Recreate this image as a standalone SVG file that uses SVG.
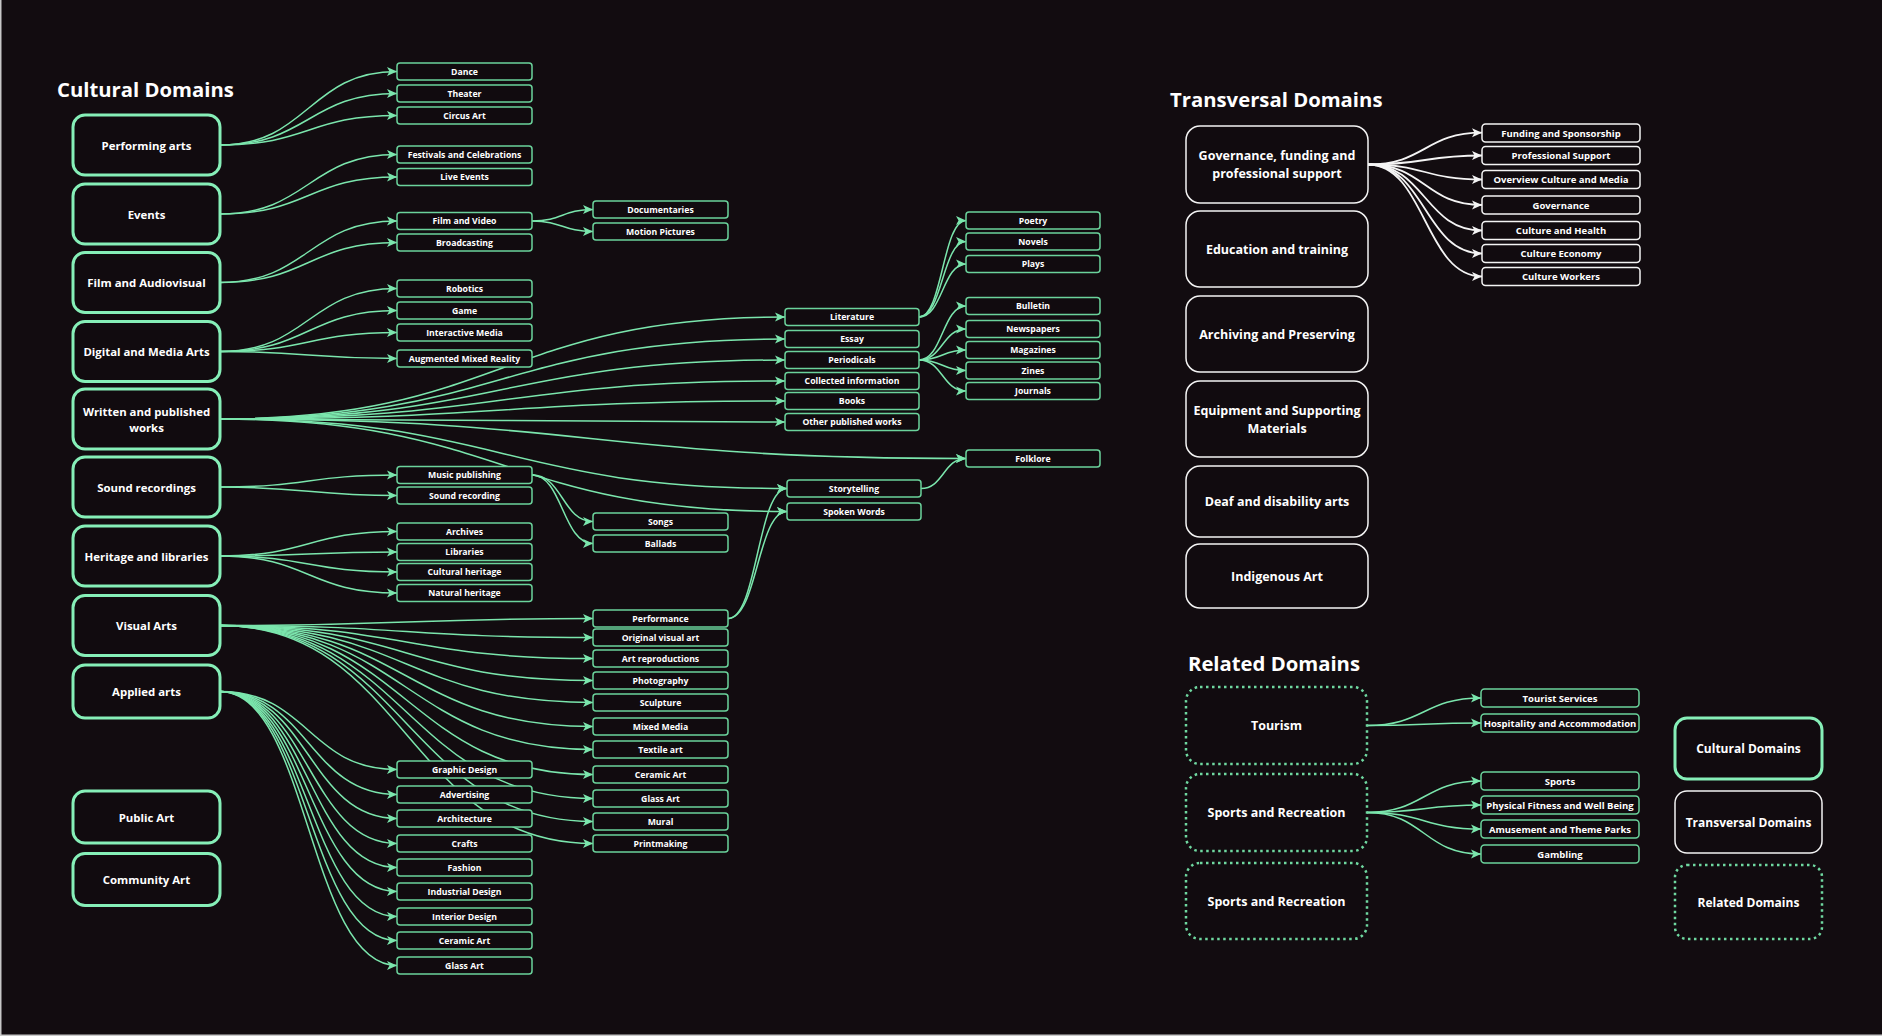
<svg xmlns="http://www.w3.org/2000/svg" width="1882" height="1036" viewBox="0 0 1882 1036">
<defs>
<style>
.t{font-family:"Open Sans","Noto Sans","Liberation Sans",sans-serif;font-weight:700;fill:#ffffff;text-anchor:middle;dominant-baseline:central}
.h{font-family:"Open Sans","Noto Sans","Liberation Sans",sans-serif;font-weight:700;fill:#ffffff;font-size:20.3px}
.m{font-size:11.4px}
.m2{font-size:12.5px}
.lg{font-size:12px}
.s{font-size:8.7px}
.s2{font-size:9.5px}
.mn{fill:#110b0f;stroke:#86efb8;stroke-width:3}
.lf{fill:#110b0f;stroke:#6bd39c;stroke-width:1.5}
.tv{fill:#110b0f;stroke:#f4f4f4;stroke-width:1.5}
.rl{fill:#110b0f;stroke:#6fd8a0;stroke-width:2.5;stroke-dasharray:2.5 3.5}
.cg path{fill:none;stroke:#7be6ad;stroke-width:1.5;marker-end:url(#ag)}
.cw path{fill:none;stroke:#f4f4f4;stroke-width:1.8;marker-end:url(#aw)}
</style>
<marker id="ag" markerUnits="userSpaceOnUse" markerWidth="10" markerHeight="10" refX="10" refY="5" orient="auto" viewBox="0 0 10 10"><path d="M0,0.5 L10,5 L0,9.5 L2.5,5 z" fill="#7be6ad"/></marker>
<marker id="aw" markerUnits="userSpaceOnUse" markerWidth="10" markerHeight="10" refX="10" refY="5" orient="auto" viewBox="0 0 10 10"><path d="M0,0.5 L10,5 L0,9.5 L2.5,5 z" fill="#f4f4f4"/></marker>
</defs>
<rect x="0" y="0" width="1882" height="1036" fill="#120c10"/>
<path d="M0.75,0 V1035.25 H1882" fill="none" stroke="#c8c8c8" stroke-width="1.5"/>

<text class="h" x="57" y="97">Cultural Domains</text>
<text class="h" x="1170" y="107">Transversal Domains</text>
<text class="h" x="1188" y="671">Related Domains</text>

<g id="connectors">
<g class="cg">
<path d="M220,145 C308.5,145 308.5,71.5 397,71.5"/>
<path d="M220,145 C308.5,145 308.5,93.5 397,93.5"/>
<path d="M220,145 C308.5,145 308.5,115.5 397,115.5"/>
<path d="M220,214 C308.5,214 308.5,154.5 397,154.5"/>
<path d="M220,214 C308.5,214 308.5,177 397,177"/>
<path d="M220,282.5 C308.5,282.5 308.5,221 397,221"/>
<path d="M220,282.5 C308.5,282.5 308.5,242.5 397,242.5"/>
<path d="M532,221 C562.5,221 562.5,209.5 593,209.5"/>
<path d="M532,221 C562.5,221 562.5,231.5 593,231.5"/>
<path d="M220,351.5 C308.5,351.5 308.5,288.5 397,288.5"/>
<path d="M220,351.5 C308.5,351.5 308.5,310.5 397,310.5"/>
<path d="M220,351.5 C308.5,351.5 308.5,332.5 397,332.5"/>
<path d="M220,351.5 C308.5,351.5 308.5,358.5 397,358.5"/>
<path d="M220,419 C502.5,419 502.5,317 785,317"/>
<path d="M220,419 C502.5,419 502.5,339 785,339"/>
<path d="M220,419 C502.5,419 502.5,360 785,360"/>
<path d="M220,419 C502.5,419 502.5,381 785,381"/>
<path d="M220,419 C502.5,419 502.5,401 785,401"/>
<path d="M220,419 C502.5,419 502.5,422 785,422"/>
<path d="M220,419 C593,419 593,458.5 966,458.5"/>
<path d="M220,419 C503.5,419 503.5,488.5 787,488.5"/>
<path d="M220,419 C503.5,419 503.5,511.5 787,511.5"/>
<path d="M919,317 C942.5,317 942.5,220.5 966,220.5"/>
<path d="M919,317 C942.5,317 942.5,241.5 966,241.5"/>
<path d="M919,317 C942.5,317 942.5,264 966,264"/>
<path d="M919,360 C942.5,360 942.5,306 966,306"/>
<path d="M919,360 C942.5,360 942.5,329 966,329"/>
<path d="M919,360 C942.5,360 942.5,350 966,350"/>
<path d="M919,360 C942.5,360 942.5,370.5 966,370.5"/>
<path d="M919,360 C942.5,360 942.5,391 966,391"/>
<path d="M921,488.5 C943.5,488.5 943.5,458.5 966,458.5"/>
<path d="M220,487 C308.5,487 308.5,475 397,475"/>
<path d="M220,487 C308.5,487 308.5,495.5 397,495.5"/>
<path d="M532,475 C562.5,475 562.5,521.5 593,521.5"/>
<path d="M532,475 C562.5,475 562.5,543.5 593,543.5"/>
<path d="M220,556 C308.5,556 308.5,531.5 397,531.5"/>
<path d="M220,556 C308.5,556 308.5,552 397,552"/>
<path d="M220,556 C308.5,556 308.5,572 397,572"/>
<path d="M220,556 C308.5,556 308.5,593 397,593"/>
<path d="M220,625.5 C406.5,625.5 406.5,618.5 593,618.5"/>
<path d="M220,625.5 C406.5,625.5 406.5,637.5 593,637.5"/>
<path d="M220,625.5 C406.5,625.5 406.5,658.5 593,658.5"/>
<path d="M220,625.5 C406.5,625.5 406.5,680.5 593,680.5"/>
<path d="M220,625.5 C406.5,625.5 406.5,702.5 593,702.5"/>
<path d="M220,625.5 C406.5,625.5 406.5,726.5 593,726.5"/>
<path d="M220,625.5 C406.5,625.5 406.5,749.5 593,749.5"/>
<path d="M220,625.5 C406.5,625.5 406.5,774.5 593,774.5"/>
<path d="M220,625.5 C406.5,625.5 406.5,798.5 593,798.5"/>
<path d="M220,625.5 C406.5,625.5 406.5,821.5 593,821.5"/>
<path d="M220,625.5 C406.5,625.5 406.5,843.5 593,843.5"/>
<path d="M728,618.5 C757.5,618.5 757.5,488.5 787,488.5"/>
<path d="M728,618.5 C757.5,618.5 757.5,511.5 787,511.5"/>
<path d="M220,691.5 C308.5,691.5 308.5,769.5 397,769.5"/>
<path d="M220,691.5 C308.5,691.5 308.5,794.5 397,794.5"/>
<path d="M220,691.5 C308.5,691.5 308.5,818.5 397,818.5"/>
<path d="M220,691.5 C308.5,691.5 308.5,843.5 397,843.5"/>
<path d="M220,691.5 C308.5,691.5 308.5,867.5 397,867.5"/>
<path d="M220,691.5 C308.5,691.5 308.5,891.5 397,891.5"/>
<path d="M220,691.5 C308.5,691.5 308.5,916.5 397,916.5"/>
<path d="M220,691.5 C308.5,691.5 308.5,940.5 397,940.5"/>
<path d="M220,691.5 C308.5,691.5 308.5,965.5 397,965.5"/>
<path d="M1367,725.5 C1424,725.5 1424,698 1481,698"/>
<path d="M1367,725.5 C1424,725.5 1424,723 1481,723"/>
<path d="M1367,812.5 C1424,812.5 1424,781 1481,781"/>
<path d="M1367,812.5 C1424,812.5 1424,805 1481,805"/>
<path d="M1367,812.5 C1424,812.5 1424,829 1481,829"/>
<path d="M1367,812.5 C1424,812.5 1424,854 1481,854"/>
</g>
<g class="cw">
<path d="M1368,164.5 C1425,164.5 1425,132.7 1482,132.7"/>
<path d="M1368,164.5 C1425,164.5 1425,155.5 1482,155.5"/>
<path d="M1368,164.5 C1425,164.5 1425,179.5 1482,179.5"/>
<path d="M1368,164.5 C1425,164.5 1425,205 1482,205"/>
<path d="M1368,164.5 C1425,164.5 1425,230.5 1482,230.5"/>
<path d="M1368,164.5 C1425,164.5 1425,253.5 1482,253.5"/>
<path d="M1368,164.5 C1425,164.5 1425,276.5 1482,276.5"/>
</g>
</g>

<!-- Cultural main nodes -->
<g id="performing-arts"><rect class="mn" x="73" y="115" width="147" height="60" rx="12"/><text class="t m" x="146.5" y="145">Performing arts</text></g>
<g id="events"><rect class="mn" x="73" y="184" width="147" height="60" rx="12"/><text class="t m" x="146.5" y="214">Events</text></g>
<g id="film-audiovisual"><rect class="mn" x="73" y="252.5" width="147" height="60" rx="12"/><text class="t m" x="146.5" y="282.5">Film and Audiovisual</text></g>
<g id="digital-media"><rect class="mn" x="73" y="321.5" width="147" height="60" rx="12"/><text class="t m" x="146.5" y="351.5">Digital and Media Arts</text></g>
<g id="written"><rect class="mn" x="73" y="389" width="147" height="60" rx="12"/><text class="t m" x="146.5" y="411">Written and published</text><text class="t m" x="146.5" y="427">works</text></g>
<g id="sound-recordings"><rect class="mn" x="73" y="457" width="147" height="60" rx="12"/><text class="t m" x="146.5" y="487">Sound recordings</text></g>
<g id="heritage"><rect class="mn" x="73" y="526" width="147" height="60" rx="12"/><text class="t m" x="146.5" y="556">Heritage and libraries</text></g>
<g id="visual-arts"><rect class="mn" x="73" y="595.5" width="147" height="60" rx="12"/><text class="t m" x="146.5" y="625.5">Visual Arts</text></g>
<g id="applied-arts"><rect class="mn" x="73" y="665" width="147" height="53" rx="12"/><text class="t m" x="146.5" y="691.5">Applied arts</text></g>
<g id="public-art"><rect class="mn" x="73" y="791" width="147" height="52" rx="12"/><text class="t m" x="146.5" y="817">Public Art</text></g>
<g id="community-art"><rect class="mn" x="73" y="853.5" width="147" height="52" rx="12"/><text class="t m" x="146.5" y="879.5">Community Art</text></g>

<!-- Leaf column 1 -->
<g id="dance"><rect class="lf" x="397" y="63" width="135" height="17" rx="3"/><text class="t s" x="464.5" y="71.5">Dance</text></g>
<g id="theater"><rect class="lf" x="397" y="85" width="135" height="17" rx="3"/><text class="t s" x="464.5" y="93.5">Theater</text></g>
<g id="circus-art"><rect class="lf" x="397" y="107" width="135" height="17" rx="3"/><text class="t s" x="464.5" y="115.5">Circus Art</text></g>
<g id="festivals"><rect class="lf" x="397" y="146" width="135" height="17" rx="3"/><text class="t s" x="464.5" y="154.5">Festivals and Celebrations</text></g>
<g id="live-events"><rect class="lf" x="397" y="168.5" width="135" height="17" rx="3"/><text class="t s" x="464.5" y="177">Live Events</text></g>
<g id="film-video"><rect class="lf" x="397" y="212.5" width="135" height="17" rx="3"/><text class="t s" x="464.5" y="221">Film and Video</text></g>
<g id="broadcasting"><rect class="lf" x="397" y="234" width="135" height="17" rx="3"/><text class="t s" x="464.5" y="242.5">Broadcasting</text></g>
<g id="robotics"><rect class="lf" x="397" y="280" width="135" height="17" rx="3"/><text class="t s" x="464.5" y="288.5">Robotics</text></g>
<g id="game"><rect class="lf" x="397" y="302" width="135" height="17" rx="3"/><text class="t s" x="464.5" y="310.5">Game</text></g>
<g id="interactive-media"><rect class="lf" x="397" y="324" width="135" height="17" rx="3"/><text class="t s" x="464.5" y="332.5">Interactive Media</text></g>
<g id="augmented"><rect class="lf" x="397" y="350" width="135" height="17" rx="3"/><text class="t s" x="464.5" y="358.5">Augmented Mixed Reality</text></g>
<g id="music-publishing"><rect class="lf" x="397" y="466.5" width="135" height="17" rx="3"/><text class="t s" x="464.5" y="475">Music publishing</text></g>
<g id="sound-recording"><rect class="lf" x="397" y="487" width="135" height="17" rx="3"/><text class="t s" x="464.5" y="495.5">Sound recording</text></g>
<g id="archives"><rect class="lf" x="397" y="523" width="135" height="17" rx="3"/><text class="t s" x="464.5" y="531.5">Archives</text></g>
<g id="libraries"><rect class="lf" x="397" y="543.5" width="135" height="17" rx="3"/><text class="t s" x="464.5" y="552">Libraries</text></g>
<g id="cultural-heritage"><rect class="lf" x="397" y="563.5" width="135" height="17" rx="3"/><text class="t s" x="464.5" y="572">Cultural heritage</text></g>
<g id="natural-heritage"><rect class="lf" x="397" y="584.5" width="135" height="17" rx="3"/><text class="t s" x="464.5" y="593">Natural heritage</text></g>
<g id="graphic-design"><rect class="lf" x="397" y="761" width="135" height="17" rx="3"/><text class="t s" x="464.5" y="769.5">Graphic Design</text></g>
<g id="advertising"><rect class="lf" x="397" y="786" width="135" height="17" rx="3"/><text class="t s" x="464.5" y="794.5">Advertising</text></g>
<g id="architecture"><rect class="lf" x="397" y="810" width="135" height="17" rx="3"/><text class="t s" x="464.5" y="818.5">Architecture</text></g>
<g id="crafts"><rect class="lf" x="397" y="835" width="135" height="17" rx="3"/><text class="t s" x="464.5" y="843.5">Crafts</text></g>
<g id="fashion"><rect class="lf" x="397" y="859" width="135" height="17" rx="3"/><text class="t s" x="464.5" y="867.5">Fashion</text></g>
<g id="industrial-design"><rect class="lf" x="397" y="883" width="135" height="17" rx="3"/><text class="t s" x="464.5" y="891.5">Industrial Design</text></g>
<g id="interior-design"><rect class="lf" x="397" y="908" width="135" height="17" rx="3"/><text class="t s" x="464.5" y="916.5">Interior Design</text></g>
<g id="ceramic-art-1"><rect class="lf" x="397" y="932" width="135" height="17" rx="3"/><text class="t s" x="464.5" y="940.5">Ceramic Art</text></g>
<g id="glass-art-1"><rect class="lf" x="397" y="957" width="135" height="17" rx="3"/><text class="t s" x="464.5" y="965.5">Glass Art</text></g>

<!-- Leaf column 2 -->
<g id="documentaries"><rect class="lf" x="593" y="201" width="135" height="17" rx="3"/><text class="t s" x="660.5" y="209.5">Documentaries</text></g>
<g id="motion-pictures"><rect class="lf" x="593" y="223" width="135" height="17" rx="3"/><text class="t s" x="660.5" y="231.5">Motion Pictures</text></g>
<g id="songs"><rect class="lf" x="593" y="513" width="135" height="17" rx="3"/><text class="t s" x="660.5" y="521.5">Songs</text></g>
<g id="ballads"><rect class="lf" x="593" y="535" width="135" height="17" rx="3"/><text class="t s" x="660.5" y="543.5">Ballads</text></g>
<g id="performance"><rect class="lf" x="593" y="610" width="135" height="17" rx="3"/><text class="t s" x="660.5" y="618.5">Performance</text></g>
<g id="original-visual-art"><rect class="lf" x="593" y="629" width="135" height="17" rx="3"/><text class="t s" x="660.5" y="637.5">Original visual art</text></g>
<g id="art-reproductions"><rect class="lf" x="593" y="650" width="135" height="17" rx="3"/><text class="t s" x="660.5" y="658.5">Art reproductions</text></g>
<g id="photography"><rect class="lf" x="593" y="672" width="135" height="17" rx="3"/><text class="t s" x="660.5" y="680.5">Photography</text></g>
<g id="sculpture"><rect class="lf" x="593" y="694" width="135" height="17" rx="3"/><text class="t s" x="660.5" y="702.5">Sculpture</text></g>
<g id="mixed-media"><rect class="lf" x="593" y="718" width="135" height="17" rx="3"/><text class="t s" x="660.5" y="726.5">Mixed Media</text></g>
<g id="textile-art"><rect class="lf" x="593" y="741" width="135" height="17" rx="3"/><text class="t s" x="660.5" y="749.5">Textile art</text></g>
<g id="ceramic-art-2"><rect class="lf" x="593" y="766" width="135" height="17" rx="3"/><text class="t s" x="660.5" y="774.5">Ceramic Art</text></g>
<g id="glass-art-2"><rect class="lf" x="593" y="790" width="135" height="17" rx="3"/><text class="t s" x="660.5" y="798.5">Glass Art</text></g>
<g id="mural"><rect class="lf" x="593" y="813" width="135" height="17" rx="3"/><text class="t s" x="660.5" y="821.5">Mural</text></g>
<g id="printmaking"><rect class="lf" x="593" y="835" width="135" height="17" rx="3"/><text class="t s" x="660.5" y="843.5">Printmaking</text></g>

<!-- Leaf column 3 -->
<g id="literature"><rect class="lf" x="785" y="308.5" width="134" height="17" rx="3"/><text class="t s" x="852" y="317">Literature</text></g>
<g id="essay"><rect class="lf" x="785" y="330.5" width="134" height="17" rx="3"/><text class="t s" x="852" y="339">Essay</text></g>
<g id="periodicals"><rect class="lf" x="785" y="351.5" width="134" height="17" rx="3"/><text class="t s" x="852" y="360">Periodicals</text></g>
<g id="collected-information"><rect class="lf" x="785" y="372.5" width="134" height="17" rx="3"/><text class="t s" x="852" y="381">Collected information</text></g>
<g id="books"><rect class="lf" x="785" y="392.5" width="134" height="17" rx="3"/><text class="t s" x="852" y="401">Books</text></g>
<g id="other-published"><rect class="lf" x="785" y="413.5" width="134" height="17" rx="3"/><text class="t s" x="852" y="422">Other published works</text></g>
<g id="storytelling"><rect class="lf" x="787" y="480" width="134" height="17" rx="3"/><text class="t s" x="854" y="488.5">Storytelling</text></g>
<g id="spoken-words"><rect class="lf" x="787" y="503" width="134" height="17" rx="3"/><text class="t s" x="854" y="511.5">Spoken Words</text></g>

<!-- Leaf column 4 -->
<g id="poetry"><rect class="lf" x="966" y="212" width="134" height="17" rx="3"/><text class="t s" x="1033" y="220.5">Poetry</text></g>
<g id="novels"><rect class="lf" x="966" y="233" width="134" height="17" rx="3"/><text class="t s" x="1033" y="241.5">Novels</text></g>
<g id="plays"><rect class="lf" x="966" y="255.5" width="134" height="17" rx="3"/><text class="t s" x="1033" y="264">Plays</text></g>
<g id="bulletin"><rect class="lf" x="966" y="297.5" width="134" height="17" rx="3"/><text class="t s" x="1033" y="306">Bulletin</text></g>
<g id="newspapers"><rect class="lf" x="966" y="320.5" width="134" height="17" rx="3"/><text class="t s" x="1033" y="329">Newspapers</text></g>
<g id="magazines"><rect class="lf" x="966" y="341.5" width="134" height="17" rx="3"/><text class="t s" x="1033" y="350">Magazines</text></g>
<g id="zines"><rect class="lf" x="966" y="362" width="134" height="17" rx="3"/><text class="t s" x="1033" y="370.5">Zines</text></g>
<g id="journals"><rect class="lf" x="966" y="382.5" width="134" height="17" rx="3"/><text class="t s" x="1033" y="391">Journals</text></g>
<g id="folklore"><rect class="lf" x="966" y="450" width="134" height="17" rx="3"/><text class="t s" x="1033" y="458.5">Folklore</text></g>

<!-- Transversal -->
<g id="governance-funding"><rect class="tv" x="1186" y="126" width="182" height="77" rx="14"/><text class="t m2" x="1277" y="155.5">Governance, funding and</text><text class="t m2" x="1277" y="173.5">professional support</text></g>
<g id="education"><rect class="tv" x="1186" y="211" width="182" height="76" rx="14"/><text class="t m2" x="1277" y="249">Education and training</text></g>
<g id="archiving"><rect class="tv" x="1186" y="296" width="182" height="76" rx="14"/><text class="t m2" x="1277" y="334">Archiving and Preserving</text></g>
<g id="equipment"><rect class="tv" x="1186" y="381" width="182" height="76" rx="14"/><text class="t m2" x="1277" y="410.5">Equipment and Supporting</text><text class="t m2" x="1277" y="428">Materials</text></g>
<g id="deaf-disability"><rect class="tv" x="1186" y="466" width="182" height="71" rx="14"/><text class="t m2" x="1277" y="501.5">Deaf and disability arts</text></g>
<g id="indigenous"><rect class="tv" x="1186" y="544" width="182" height="64" rx="14"/><text class="t m2" x="1277" y="576">Indigenous Art</text></g>

<g id="funding-sponsorship"><rect class="tv" x="1482" y="124" width="158" height="18" rx="3.5"/><text class="t s2" x="1561" y="133">Funding and Sponsorship</text></g>
<g id="professional-support"><rect class="tv" x="1482" y="146.5" width="158" height="18" rx="3.5"/><text class="t s2" x="1561" y="155.5">Professional Support</text></g>
<g id="overview-culture-media"><rect class="tv" x="1482" y="170.5" width="158" height="18" rx="3.5"/><text class="t s2" x="1561" y="179.5">Overview Culture and Media</text></g>
<g id="governance"><rect class="tv" x="1482" y="196" width="158" height="18" rx="3.5"/><text class="t s2" x="1561" y="205">Governance</text></g>
<g id="culture-health"><rect class="tv" x="1482" y="221.5" width="158" height="18" rx="3.5"/><text class="t s2" x="1561" y="230.5">Culture and Health</text></g>
<g id="culture-economy"><rect class="tv" x="1482" y="244.5" width="158" height="18" rx="3.5"/><text class="t s2" x="1561" y="253.5">Culture Economy</text></g>
<g id="culture-workers"><rect class="tv" x="1482" y="267.5" width="158" height="18" rx="3.5"/><text class="t s2" x="1561" y="276.5">Culture Workers</text></g>

<!-- Related -->
<g id="tourism"><rect class="rl" x="1186" y="687" width="181" height="77" rx="14"/><text class="t m2" x="1276.5" y="725.5">Tourism</text></g>
<g id="sports-recreation-1"><rect class="rl" x="1186" y="774" width="181" height="77" rx="14"/><text class="t m2" x="1276.5" y="812.5">Sports and Recreation</text></g>
<g id="sports-recreation-2"><rect class="rl" x="1186" y="863" width="181" height="76" rx="14"/><text class="t m2" x="1276.5" y="901">Sports and Recreation</text></g>

<g id="tourist-services"><rect class="lf" x="1481" y="689" width="158" height="18" rx="3.5"/><text class="t s2" x="1560" y="698">Tourist Services</text></g>
<g id="hospitality"><rect class="lf" x="1481" y="714" width="158" height="18" rx="3.5"/><text class="t s2" x="1560" y="723">Hospitality and Accommodation</text></g>
<g id="sports"><rect class="lf" x="1481" y="772" width="158" height="18" rx="3.5"/><text class="t s2" x="1560" y="781">Sports</text></g>
<g id="physical-fitness"><rect class="lf" x="1481" y="796" width="158" height="18" rx="3.5"/><text class="t s2" x="1560" y="805">Physical Fitness and Well Being</text></g>
<g id="amusement"><rect class="lf" x="1481" y="820" width="158" height="18" rx="3.5"/><text class="t s2" x="1560" y="829">Amusement and Theme Parks</text></g>
<g id="gambling"><rect class="lf" x="1481" y="845" width="158" height="18" rx="3.5"/><text class="t s2" x="1560" y="854">Gambling</text></g>

<!-- Legend -->
<g id="legend-cultural"><rect class="mn" x="1675" y="718" width="147" height="61" rx="12"/><text class="t lg" x="1748.5" y="748.5">Cultural Domains</text></g>
<g id="legend-transversal"><rect class="tv" x="1675" y="791" width="147" height="62" rx="12"/><text class="t lg" x="1748.5" y="822">Transversal Domains</text></g>
<g id="legend-related"><rect class="rl" x="1675" y="865" width="147" height="74" rx="12"/><text class="t lg" x="1748.5" y="902">Related Domains</text></g>
</svg>
